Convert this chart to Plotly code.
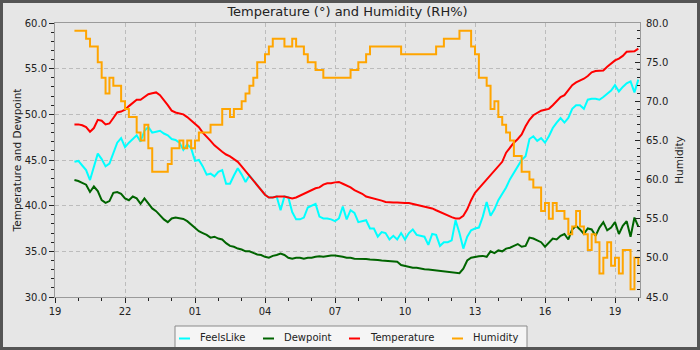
import pandas as pd
import plotly.graph_objects as go

# 10-minute readings, 19:50 through 20:00 the next evening
times = pd.date_range("2024-03-14 19:50", periods=146, freq="10min")

temperature = [
    48.9, 48.9, 48.8, 48.6, 48.1, 48.5, 49.4, 49.3, 48.9, 49.0,
    49.6, 50.2, 50.3, 50.5, 50.9, 51.2, 51.6, 51.6, 51.9, 52.2,
    52.3, 52.4, 52.1, 51.6, 51.0, 50.4, 50.2, 50.1, 50.0, 49.7,
    49.3, 48.9, 48.6, 48.0, 47.6, 47.1, 46.6, 46.2, 45.9, 45.6,
    45.4, 45.1, 44.8, 44.3, 43.8, 43.3, 42.8, 42.3, 41.8, 41.2,
    40.9, 40.9, 41.0, 41.0, 41.0, 40.9, 40.8, 40.9, 41.1, 41.3,
    41.5, 41.7, 41.9, 42.0, 42.3, 42.45, 42.45, 42.55, 42.6, 42.4,
    42.2, 42.0, 41.7, 41.5, 41.3, 41.0, 40.9, 40.8, 40.7, 40.55,
    40.4, 40.35, 40.35, 40.35, 40.3, 40.3, 40.3, 40.2, 40.1, 40.0,
    39.9, 39.85, 39.7, 39.5, 39.3, 39.1, 38.9, 38.75, 38.6, 38.6,
    38.9, 39.6, 40.6, 41.4, 41.9, 42.4, 42.9, 43.4, 43.9, 44.4,
    44.8, 45.8, 46.4, 46.9, 47.3, 47.8, 48.7, 49.4, 49.9, 50.2,
    50.4, 50.5, 50.6, 51.0, 51.5, 51.9, 52.1, 52.6, 53.2, 53.5,
    53.7, 53.9, 54.2, 54.6, 54.75, 54.75, 54.8, 55.2, 55.6, 55.9,
    56.1, 56.4, 56.85, 56.9, 56.9, 57.2,
]

feels_like = [
    44.8, 44.9, 44.4, 43.9, 42.8, 44.2, 45.7, 45.1, 44.3, 44.6,
    45.8, 46.9, 47.4, 46.4, 46.9, 47.3, 47.7, 47.0, 48.2, 48.6,
    48.0, 48.1, 48.2, 47.9, 47.7, 47.3, 47.2, 46.9, 46.1, 46.7,
    46.3, 44.9, 45.0, 44.3, 43.4, 43.5, 43.2, 43.7, 43.9, 42.4,
    42.4, 43.3, 44.1, 43.4, 42.6, 43.3, 42.8, 42.3, 41.8, 41.2,
    40.9, 40.9, 41.0, 39.5, 41.0, 40.9, 39.3, 38.5, 38.5, 38.7,
    39.8, 40.0, 40.2, 38.8, 38.6, 38.6, 38.5, 38.3, 38.6, 39.9,
    38.5, 39.5, 39.2, 38.2, 38.3, 38.4, 37.5, 37.5, 36.6, 37.1,
    37.0, 36.3, 36.7, 36.3, 37.0, 36.3, 37.0, 37.4, 36.8, 36.7,
    36.6, 35.7, 36.9, 36.8, 35.6, 36.0, 36.0, 36.2, 38.4, 37.0,
    35.3, 36.6, 37.3, 37.5, 37.6, 38.8, 40.4, 38.9, 39.6, 40.6,
    41.3, 42.0, 42.9, 43.6, 44.3, 45.0, 45.4, 47.3, 47.6, 47.1,
    47.4, 46.9, 47.6, 48.5, 49.1, 49.6, 49.1, 49.6, 50.6, 51.0,
    51.0, 50.6, 51.6, 51.7, 51.7, 51.6, 51.9, 52.2, 52.6, 53.2,
    52.5, 53.0, 53.4, 53.6, 52.4, 53.8,
]

dewpoint = [
    42.8, 42.7, 42.5, 42.3, 41.5, 42.1, 41.6, 40.6, 40.3, 40.5,
    41.4, 41.5, 41.3, 40.8, 40.6, 41.0, 40.8, 40.2, 40.8, 40.2,
    39.7, 39.4, 38.9, 38.5, 38.2, 38.6, 38.7, 38.6, 38.55, 38.3,
    37.9, 37.5, 37.2, 37.0, 36.8, 36.5, 36.6, 36.4, 36.3, 35.9,
    35.6, 35.5, 35.3, 35.2, 35.0, 35.0, 34.8, 34.65, 34.6, 34.4,
    34.3, 34.5, 34.6, 34.75, 34.6, 34.3, 34.2, 34.3, 34.3, 34.2,
    34.3, 34.3, 34.4, 34.45, 34.4, 34.5, 34.55, 34.55, 34.5, 34.4,
    34.3, 34.3, 34.2, 34.2, 34.2, 34.15, 34.1, 34.1, 34.05, 34.0,
    33.95, 33.9, 33.9, 33.85, 33.5, 33.4, 33.3, 33.2, 33.2, 33.1,
    33.05, 33.0, 32.95, 32.85, 32.8, 32.75, 32.7, 32.65, 32.6, 32.6,
    33.1, 34.0, 34.3, 34.4, 34.45, 34.5, 34.4, 35.0, 34.8, 35.1,
    35.0, 35.3, 35.4, 35.6, 35.8, 35.5, 35.6, 36.5, 36.4, 36.2,
    36.0, 35.5, 35.9, 36.4, 36.3, 36.7, 36.9, 36.3, 37.4, 37.8,
    37.4, 36.9, 37.5, 37.4, 36.7, 37.6, 38.2, 37.3, 37.6, 38.2,
    36.9, 37.8, 38.3, 36.6, 38.7, 37.7,
]

humidity = [
    79, 79, 79, 78, 77, 77, 75, 73, 71, 73,
    72, 72, 70, 69, 68, 68, 66, 65, 67, 64,
    61, 61, 61, 61, 62, 64, 64, 65, 64, 65,
    64, 65, 66, 66, 66, 67, 67, 67, 69, 69,
    68, 69, 69, 70, 71, 72, 73, 75, 75, 76,
    77, 78, 78, 78, 77, 77, 78, 77, 77, 76,
    75, 75, 74, 74, 73, 73, 73, 73, 73, 73,
    73, 74, 74, 75, 75, 76, 77, 77, 77, 77,
    77, 77, 77, 77, 76, 76, 76, 76, 76, 76,
    76, 76, 76, 77, 77, 78, 78, 78, 78, 79,
    79, 79, 77, 76, 73, 73, 72, 69, 70, 68,
    67, 66, 65, 63, 63, 61, 61, 60, 59, 59,
    56, 57, 55, 57, 56, 56, 55, 53, 54, 56,
    54, 53, 51, 53, 52, 48, 50, 52, 49, 50,
    48, 51, 51, 46, 50, 49,
]

series_names = ["FeelsLike", "Dewpoint", "Temperature", "Humidity"]
series_colors = ["#00ffff", "#006400", "#ff0000", "#ffa500"]

W, H = 700, 350
L, R, T, B = 55, 640, 23, 297
BG = "#e6e6e6"
TEXT = "#222222"
AXIS = "#9a9a9a"
GRID = "#bcbcbc"
FONT = "DejaVu Sans"


def px_x(p):
    return (p - L) / (R - L)


def px_y(p):
    return (B - p) / (B - T)


fig = go.Figure()
for name, color, values, axis, shape in [
    (series_names[0], series_colors[0], feels_like, "y", "linear"),
    (series_names[1], series_colors[1], dewpoint, "y", "linear"),
    (series_names[2], series_colors[2], temperature, "y", "linear"),
    (series_names[3], series_colors[3], humidity, "y2", "hv"),
]:
    fig.add_trace(go.Scatter(
        x=times, y=values, name=name, mode="lines", yaxis=axis,
        line=dict(color=color, width=2, shape=shape),
    ))

HOUR = 3600000
fig.update_layout(
    width=W, height=H,
    margin=dict(l=L, r=W - R, t=T, b=H - B, pad=0),
    paper_bgcolor=BG, plot_bgcolor=BG,
    showlegend=False,
    font=dict(family=FONT, size=10, color=TEXT),
    title=dict(text="Temperature (°) and Humidity (RH%)", x=0.5, xref="paper",
               xanchor="center", y=1 - 11.5 / H, yanchor="middle",
               font=dict(size=13, color=TEXT)),
    xaxis=dict(
        type="date",
        range=["2024-03-14 19:00", "2024-03-15 20:04:17"],
        tick0="2024-03-14 19:00", dtick=3 * HOUR, tickformat="%H",
        ticks="outside", ticklen=5, tickcolor=TEXT, tickwidth=1,
        showline=True, linecolor=AXIS, linewidth=1, mirror=True,
        showgrid=True, gridcolor=GRID, griddash="4px,3px", gridwidth=1,
        zeroline=False,
        minor=dict(dtick=HOUR, ticks="outside", ticklen=3, tickcolor=TEXT, showgrid=False),
        tickfont=dict(size=10, color=TEXT),
    ),
    yaxis=dict(
        range=[30, 60], tick0=30, dtick=5, tickformat=".1f",
        ticks="outside", ticklen=5, tickcolor=TEXT,
        showline=True, linecolor=AXIS, linewidth=1,
        showgrid=True, gridcolor=GRID, griddash="4px,3px", gridwidth=1,
        zeroline=False,
        minor=dict(dtick=1, ticks="outside", ticklen=3, tickcolor=TEXT, showgrid=False),
        tickfont=dict(size=10, color=TEXT),
        title=dict(text="Temperature and Dewpoint", font=dict(size=10.5, color=TEXT), standoff=1),
    ),
    yaxis2=dict(
        overlaying="y", side="right",
        range=[45, 80], tick0=45, dtick=5, tickformat=".1f",
        ticks="inside", ticklen=5, tickcolor=TEXT,
        showline=True, linecolor=AXIS, linewidth=1,
        showgrid=False, zeroline=False,
        minor=dict(dtick=1, ticks="inside", ticklen=3, tickcolor=TEXT, showgrid=False),
        tickfont=dict(size=10, color=TEXT),
        ticklabelstandoff=3,
        title=dict(text="Humidity", font=dict(size=10.5, color=TEXT), standoff=8),
    ),
)

# Legend box along the bottom edge
shapes = [dict(type="rect", xref="paper", yref="paper",
               x0=px_x(175), x1=px_x(527), y0=px_y(356), y1=px_y(326),
               fillcolor="#f5f5f5", line=dict(color="#8a8a8a", width=1))]
annotations = []
legend_pos = [(179, 199), (263, 283), (349, 369), (452, 472)]
for (sx, tx), name, color in zip(legend_pos, series_names, series_colors):
    shapes.append(dict(type="line", xref="paper", yref="paper",
                       x0=px_x(sx), x1=px_x(sx + 11), y0=px_y(338.5), y1=px_y(338.5),
                       line=dict(color=color, width=2)))
    annotations.append(dict(text=name, xref="paper", yref="paper",
                            x=px_x(tx - 1), y=px_y(337), xanchor="left", yanchor="middle",
                            showarrow=False, font=dict(size=10, color=TEXT)))

# Dark outer frame
shapes.append(dict(type="rect", xref="paper", yref="paper",
                   x0=px_x(1.5), x1=px_x(W - 1.5), y0=px_y(H - 1.5), y1=px_y(1.5),
                   fillcolor="rgba(0,0,0,0)", line=dict(color="#555555", width=3)))

fig.update_layout(shapes=shapes, annotations=annotations)
fig.write_html("out.html")
